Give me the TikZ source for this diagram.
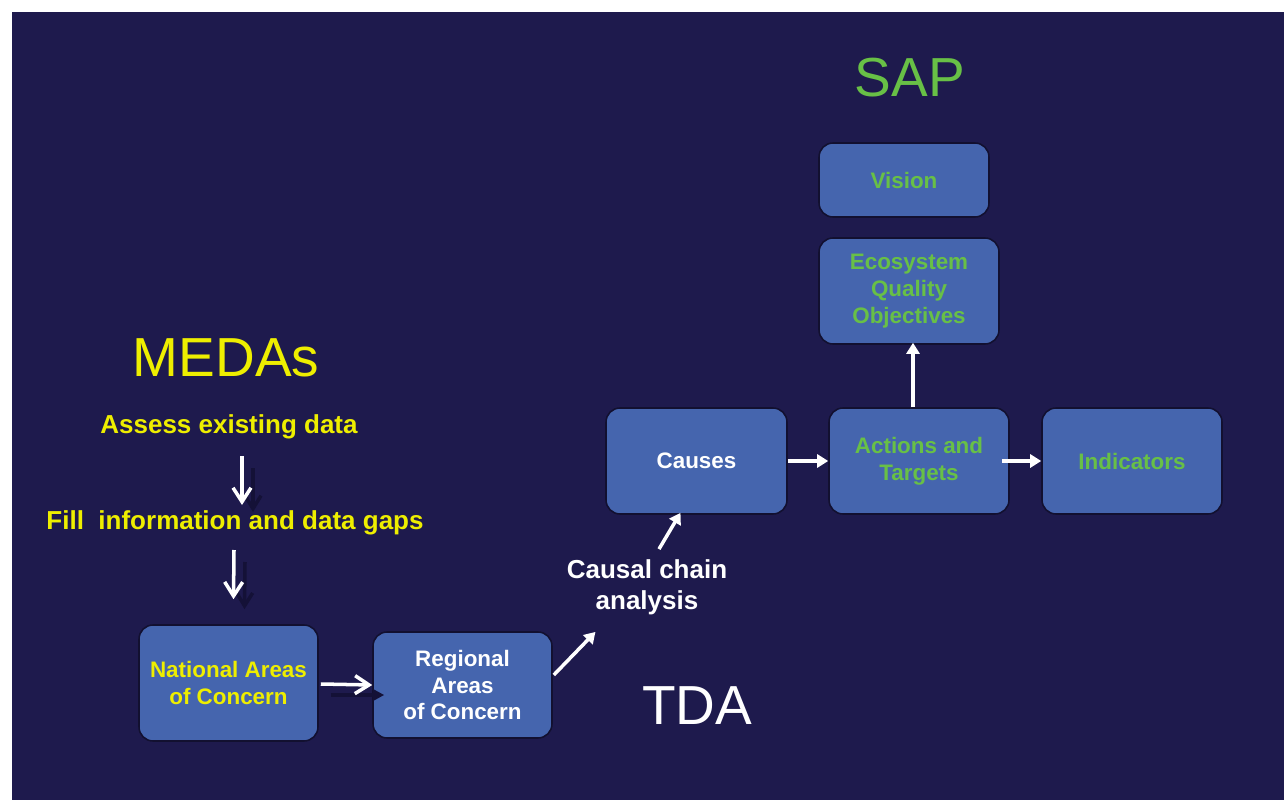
\documentclass[tikz,border=0pt]{standalone}
\usepackage{fontspec}
\setmainfont{Liberation Sans}
\usetikzlibrary{arrows.meta,calc}
\definecolor{bgc}{RGB}{30,26,77}
\definecolor{boxc}{RGB}{69,101,174}
\definecolor{boxline}{RGB}{18,16,48}
\definecolor{yel}{RGB}{238,238,0}
\definecolor{grn}{RGB}{104,192,70}
\definecolor{shadowc}{RGB}{20,17,55}
\begin{document}
\begin{tikzpicture}[x=0.02cm,y=-0.02cm,
  box/.style={draw=boxline, line width=0.9pt, fill=boxc, rounded corners=0.28cm,
    align=center, inner sep=0pt, font=\fontsize{12.75}{15.3}\selectfont\bfseries},
  title/.style={inner sep=0pt, font=\fontsize{31.3}{36}\selectfont},
  label/.style={inner sep=0pt, align=center, font=\fontsize{14.8}{17.6}\selectfont\bfseries},
  barb/.style={draw=white, line width=2pt, -{Straight Barb[length=0.28cm,width=0.36cm]}},
  tri/.style={draw=white, line width=2pt, -{Triangle[length=0.22cm,width=0.26cm]}},
  shadearrow/.style={draw=shadowc, line width=2pt, -{Straight Barb[length=0.26cm,width=0.32cm]}}
]
\useasboundingbox (0,0) rectangle (1284,800);
\fill[white] (0,0) rectangle (1284,800);
\fill[bgc] (12,12) rectangle (1284,800);

% titles
\node[title, text=grn] (sap) at (910,78) {SAP};
\node[title, text=yel] (medas) at (226,358) {MEDAs};
\node[title, text=white] (tda) at (697,706) {TDA};

% MEDAs texts
\node[label, text=yel, anchor=base] (assess) at (229,433) {Assess existing data};
\node[label, text=yel, anchor=base] (fill) at (235,529) {Fill\ \ information and data gaps};
\node[label, text=white] (causal) at (647,587) {Causal chain\\analysis};

% boxes
\node[box, text=grn, minimum width=3.4cm, minimum height=1.48cm] (vision) at (904,180) {Vision};
\node[box, text=grn, minimum width=3.6cm, minimum height=2.12cm] (eco) at (909,291) {Ecosystem\\Quality\\Objectives};
\node[box, text=white, minimum width=3.62cm, minimum height=2.12cm] (causes) at (696.5,461) {Causes};
\node[box, text=grn, minimum width=3.6cm, minimum height=2.12cm] (actions) at (919,461) {Actions and\\Targets};
\node[box, text=grn, minimum width=3.6cm, minimum height=2.12cm] (indicators) at (1132,461) {Indicators};
\node[box, text=yel, minimum width=3.58cm, minimum height=2.32cm] (national) at (228.5,683) {National Areas\\of Concern};
\node[box, text=white, minimum width=3.58cm, minimum height=2.12cm] (regional) at (462.5,685) {Regional\\Areas\\of Concern};

% shadows of the left arrows
\draw[shadearrow] ($(assess.base)+(24,35)$) -- ($(fill.base)+(18,-17)$);
\draw[shadearrow] ($(fill.base)+(10,33)$) -- ($(national.north)+(16,-15)$);
\draw[draw=shadowc, line width=2pt, -{Triangle[length=0.22cm,width=0.22cm]}] ($(national.east)+(12,12)$) -- ($(regional.west)+(12,10)$);

% arrows
\draw[barb] ($(assess.base)+(13,23)$) -- ($(fill.base)+(7,-24)$);
\draw[barb] ($(fill.base)+(-1,21)$) -- ($(national.north)+(5,-25)$);
\draw[barb] ($(national.east)+(2,1)$) -- (regional.west);
\draw[tri] ($(regional.east)+(1,-10)$) -- ($(causal.south west)+(29,17)$);
\draw[tri] ($(causal.north)+(12,-10)$) -- ($(causes.south)+(-16,-2)$);
\draw[tri] (causes.east) -- (actions.west);
\draw[tri] ($(actions.east)+(-8,0)$) -- (indicators.west);
\draw[tri] ($(actions.north)+(-6,0)$) -- ($(eco.south)+(4,-2)$);
\end{tikzpicture}
\end{document}
